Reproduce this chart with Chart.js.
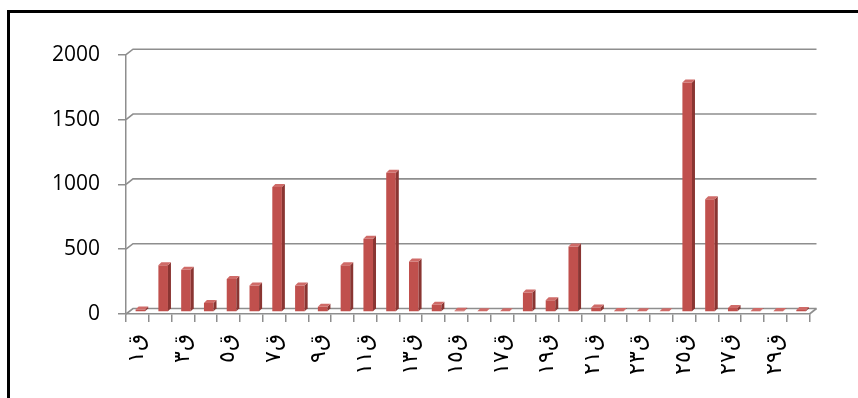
<!DOCTYPE html>
<html><head><meta charset="utf-8">
<script src="https://cdn.jsdelivr.net/npm/chart.js@4.4.1/dist/chart.umd.min.js"></script>
<style>
html,body{margin:0;padding:0;background:#fff;}
#wrap{position:relative;width:858px;height:398px;overflow:hidden;}
#frame{position:absolute;left:7px;top:10px;width:900px;height:500px;border-left:3px solid #000;border-top:3px solid #000;pointer-events:none;}
canvas{position:absolute;left:0;top:0;}
</style></head><body>
<div id="wrap"><canvas id="c" width="858" height="398"></canvas><div id="frame"></div></div>
<script>
const categories = ['ق١','ق٢','ق٣','ق٤','ق٥','ق٦','ق٧','ق٨','ق٩','ق١٠','ق١١','ق١٢','ق١٣','ق١٤','ق١٥','ق١٦','ق١٧','ق١٨','ق١٩','ق٢٠','ق٢١','ق٢٢','ق٢٣','ق٢٤','ق٢٥','ق٢٦','ق٢٧','ق٢٨','ق٢٩','ق٣٠'];
const values = [20,360,325,70,255,205,965,205,40,360,565,1075,390,55,10,5,5,150,90,505,35,8,5,5,1770,870,30,8,8,15];
const yTicks = [0,500,1000,1500,2000];

const GRID = '#8e8e8e';
const FRONT = '#C0504D', SIDE = '#8A3532', TOP = '#CF6B68';
const D = {dx:7, dy:5.5};

const threeD = {
  id:'threeD',
  beforeDatasetsDraw(chart){
    const {ctx, chartArea:a, scales:{y}} = chart;
    ctx.save();
    ctx.strokeStyle = GRID; ctx.lineWidth = 1.6;
    yTicks.forEach(v => {
      const py = y.getPixelForValue(v);
      ctx.beginPath();
      ctx.moveTo(a.left, py);
      ctx.lineTo(a.left + D.dx, py - D.dy);
      ctx.lineTo(a.right + D.dx, py - D.dy);
      ctx.stroke();
    });
    const p0 = y.getPixelForValue(0);
    ctx.beginPath(); ctx.moveTo(a.right, p0); ctx.lineTo(a.right + D.dx, p0 - D.dy); ctx.stroke();
    ctx.restore();
    ctx.save();
    ctx.translate(3, -2);
  },
  afterDatasetsDraw(chart){
    const {ctx} = chart;
    const meta = chart.getDatasetMeta(0);
    const d = 3;
    meta.data.forEach(el => {
      const {x, y, base, width} = el.getProps(['x','y','base','width'], true);
      const l = x - width/2, r = x + width/2;
      ctx.fillStyle = SIDE;
      ctx.beginPath(); ctx.moveTo(r, y); ctx.lineTo(r+d, y-d); ctx.lineTo(r+d, base-d); ctx.lineTo(r, base); ctx.closePath(); ctx.fill();
      ctx.fillStyle = TOP;
      ctx.beginPath(); ctx.moveTo(l, y); ctx.lineTo(l+d, y-d); ctx.lineTo(r+d, y-d); ctx.lineTo(r, y); ctx.closePath(); ctx.fill();
    });
    ctx.restore();
  }
};

new Chart(document.getElementById('c'), {
  type:'bar',
  data:{labels:categories, datasets:[{data:values, backgroundColor:FRONT, borderWidth:0, barPercentage:0.42, categoryPercentage:1}]},
  options:{
    responsive:false, animation:false, devicePixelRatio:1,
    layout:{padding:{left:0, top:54.7, right:48.5, bottom:0}},
    plugins:{legend:{display:false}, tooltip:{enabled:false}},
    scales:{
      x:{
        grid:{display:true, drawOnChartArea:false, drawTicks:true, tickLength:8, color:GRID, lineWidth:1.5, offset:true},
        border:{display:true, color:GRID, width:1.5},
        ticks:{autoSkip:false, minRotation:90, maxRotation:90, padding:12, color:'#000',
          font:{family:"'DejaVu Sans'", size:22},
          callback:(v, i) => i % 2 === 0 ? categories[i] : ''},
        afterFit:(s) => { s.height = 84; }
      },
      y:{
        min:0, max:2000,
        ticks:{stepSize:500, padding:18, color:'#000', font:{family:"'Open Sans','DejaVu Sans'", size:21},
          callback:(v) => String(v)},
        grid:{display:true, drawOnChartArea:false, drawTicks:true, tickLength:8, color:GRID, lineWidth:1.5},
        border:{display:true, color:GRID, width:1.5},
        afterFit:(s) => { s.width = 126; }
      }
    }
  },
  plugins:[threeD]
});
</script>
</body></html>
